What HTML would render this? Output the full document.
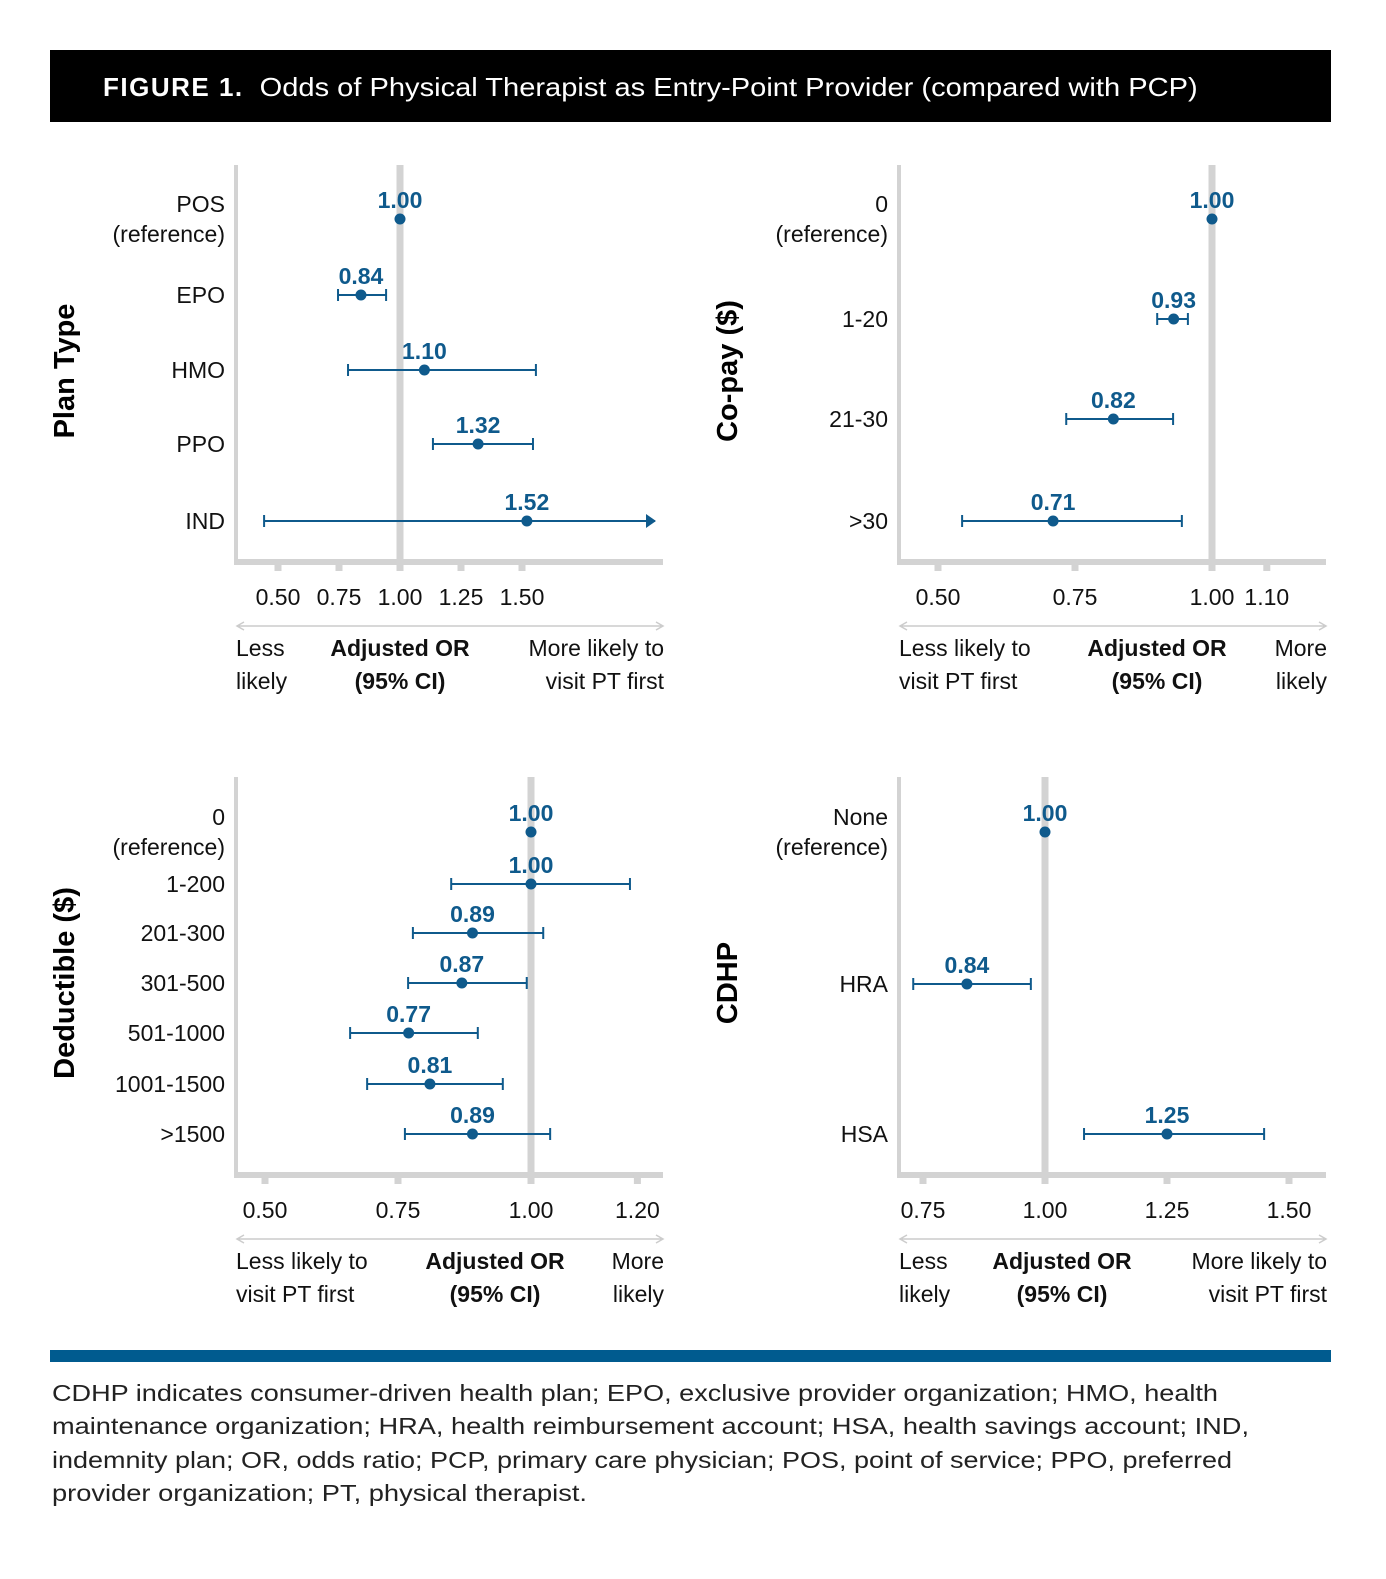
<!DOCTYPE html>
<html><head><meta charset="utf-8"><style>
body{margin:0;background:#fff;}
svg text{font-family:"Liberation Sans",sans-serif;}
</style></head><body>
<svg id="fig" width="1386" height="1574" viewBox="0 0 1386 1574" xmlns="http://www.w3.org/2000/svg">
<rect x="50" y="50" width="1281" height="72" fill="#000"/>
<text x="103" y="96" fill="#fff" font-size="26"><tspan font-weight="bold" letter-spacing="1.5">FIGURE 1.</tspan><tspan dx="16" textLength="938" lengthAdjust="spacingAndGlyphs">Odds of Physical Therapist as Entry-Point Provider (compared with PCP)</tspan></text>
<rect x="50" y="1350" width="1281" height="12" fill="#005b8f"/>
<g font-size="23" fill="#222">
<text x="52" y="1401" textLength="1166" lengthAdjust="spacingAndGlyphs">CDHP indicates consumer-driven health plan; EPO, exclusive provider organization; HMO, health</text>
<text x="52" y="1434" textLength="1197" lengthAdjust="spacingAndGlyphs">maintenance organization; HRA, health reimbursement account; HSA, health savings account; IND,</text>
<text x="52" y="1468" textLength="1180" lengthAdjust="spacingAndGlyphs">indemnity plan; OR, odds ratio; PCP, primary care physician; POS, point of service; PPO, preferred</text>
<text x="52" y="1501" textLength="535" lengthAdjust="spacingAndGlyphs">provider organization; PT, physical therapist.</text>
</g>
<g id="panels"></g>
</svg>
<script>
// Panel 1: Plan Type
const planCats = ["POS|(reference)", "EPO", "HMO", "PPO", "IND"];
const planOR = [1.00, 0.84, 1.10, 1.32, 1.52];
const planLo = [null, 0.746, 0.787, 1.135, 0.443];
const planHi = [null, 0.943, 1.557, 1.545, 2.10];
const planTicks = ["0.50", "0.75", "1.00", "1.25", "1.50"];
// Panel 2: Co-pay
const copayCats = ["0|(reference)", "1-20", "21-30", ">30"];
const copayOR = [1.00, 0.93, 0.82, 0.71];
const copayLo = [null, 0.90, 0.734, 0.544];
const copayHi = [null, 0.956, 0.929, 0.945];
const copayTicks = ["0.50", "0.75", "1.00", "1.10"];
// Panel 3: Deductible
const dedCats = ["0|(reference)", "1-200", "201-300", "301-500", "501-1000", "1001-1500", ">1500"];
const dedOR = [1.00, 1.00, 0.89, 0.87, 0.77, 0.81, 0.89];
const dedLo = [null, 0.85, 0.778, 0.769, 0.66, 0.692, 0.763];
const dedHi = [null, 1.186, 1.023, 0.992, 0.90, 0.947, 1.036];
const dedTicks = ["0.50", "0.75", "1.00", "1.20"];
// Panel 4: CDHP
const cdhpCats = ["None|(reference)", "HRA", "HSA"];
const cdhpOR = [1.00, 0.84, 1.25];
const cdhpLo = [null, 0.73, 1.08];
const cdhpHi = [null, 0.971, 1.449];
const cdhpTicks = ["0.75", "1.00", "1.25", "1.50"];

const NS = "http://www.w3.org/2000/svg";
const root = document.getElementById("panels");
function mk(tag, attrs, parent, txt) {
  const e = document.createElementNS(NS, tag);
  for (const k in attrs) e.setAttribute(k, attrs[k]);
  if (txt !== undefined) e.textContent = txt;
  parent.appendChild(e);
  return e;
}
const BLUE = "#0f5a8c", GRAY = "#d3d3d3";
function panel(o) {
  const g = mk("g", {}, root);
  
  
  const x = v => o.x1 + (v - 1) * o.ppu;
  const y = i => o.rows[i];
  const ax = mk("rect", {x: o.l - 3, y: o.top, width: 4, height: o.base - o.top, fill: GRAY}, g);
  
  
  const bl = mk("rect", {x: o.l - 3, y: o.base - 3, width: o.r - o.l + 3, height: 6, fill: GRAY}, g);
  
  
  const ref = mk("rect", {x: x(1) - 3.5, y: o.top, width: 7, height: o.base - o.top, fill: GRAY}, g);
  
  
  o.ticks.forEach(t => {
    const tx = x(parseFloat(t));
    const tk = mk("rect", {x: tx - 3.5, y: o.base, width: 7, height: 9, fill: GRAY}, g);
    
    
    const tl = mk("text", {x: tx, y: o.base + 43, "font-size": 23, "text-anchor": "middle", fill: "#111"}, g, t);
    
    
  });
  const ay = o.base + 64;
  const da = mk("path", {d: `M${o.l} ${ay}H${o.r} M${o.l+7} ${ay-4}L${o.l} ${ay}L${o.l+7} ${ay+4} M${o.r-7} ${ay-4}L${o.r} ${ay}L${o.r-7} ${ay+4}`, stroke: "#ccc", "stroke-width": 1.5, fill: "none"}, g);
  
  
  const fy1 = o.base + 94, fy2 = o.base + 127;
  const lt = mk("text", {"font-size": 23, fill: "#111"}, g);
  
  
  mk("tspan", {x: o.l - 1, y: fy1}, lt, o.leftTxt[0]);
  mk("tspan", {x: o.l - 1, y: fy2}, lt, o.leftTxt[1]);
  const rt = mk("text", {"font-size": 23, fill: "#111", "text-anchor": "end"}, g);
  
  
  mk("tspan", {x: o.r + 1, y: fy1}, rt, o.rightTxt[0]);
  mk("tspan", {x: o.r + 1, y: fy2}, rt, o.rightTxt[1]);
  const ct = mk("text", {"font-size": 23, fill: "#111", "font-weight": "bold", "text-anchor": "middle"}, g);
  
  
  mk("tspan", {x: o.mid, y: fy1}, ct, "Adjusted OR");
  mk("tspan", {x: o.mid, y: fy2}, ct, "(95% CI)");
  const yt = mk("text", {x: 0, y: 0, "font-size": 29, "font-weight": "bold", "text-anchor": "middle", fill: "#000", transform: `translate(${o.yTitleX},${o.yTitleY}) rotate(-90)`}, g, o.title);
  
  
  o.cats.forEach((c, i) => {
    const parts = c.split("|");
    const lab = mk("text", {"font-size": 23, fill: "#111", "text-anchor": "end"}, g);
    
    
    if (parts.length > 1) {
      mk("tspan", {x: o.labX, y: y(i) - 7}, lab, parts[0]);
      mk("tspan", {x: o.labX, y: y(i) + 23}, lab, parts[1]);
    } else {
      mk("tspan", {x: o.labX, y: y(i) + 8}, lab, parts[0]);
    }
    if (o.lo[i] !== null) {
      const lo = Math.max(o.lo[i], (o.l - o.x1) / o.ppu + 1);
      const hiRaw = o.hi[i];
      const maxV = (o.r - 8 - o.x1) / o.ppu + 1;
      const clipped = hiRaw > maxV;
      const hi = clipped ? maxV : hiRaw;
      const d = `M${x(lo)} ${y(i)}H${x(hi)} M${x(lo)} ${y(i)-6}V${y(i)+6}`;
      const ci = mk("path", {d: d, stroke: BLUE, "stroke-width": 2, fill: "none"}, g);
      
      
      if (clipped) {
        const ah = mk("path", {d: `M${x(hi)-9} ${y(i)-7}L${x(hi)+1} ${y(i)}L${x(hi)-9} ${y(i)+7}Z`, fill: BLUE}, g);
        
        
      } else {
        const cap = mk("path", {d: `M${x(hi)} ${y(i)-6}V${y(i)+6}`, stroke: BLUE, "stroke-width": 2}, g);
        
        
      }
    }
    const pt = mk("circle", {cx: x(o.or[i]), cy: y(i), r: 5.5, fill: BLUE}, g);
    
    
    const vl = mk("text", {x: x(o.or[i]), y: y(i) - 11, "font-size": 23, "font-weight": "bold", fill: BLUE, "text-anchor": "middle"}, g, o.or[i].toFixed(2));
    
    
  });
}
panel({name: "plan-type-panel", title: "Plan Type", cats: planCats, or: planOR, lo: planLo, hi: planHi, ticks: planTicks,
  x1: 400, ppu: 244, l: 237, r: 663, top: 165, base: 562, rows: [219, 295, 370, 444, 521], labX: 225,
  yTitleX: 74, yTitleY: 371, leftTxt: ["Less", "likely"], rightTxt: ["More likely to", "visit PT first"], mid: 400});
panel({name: "copay-panel", title: "Co-pay ($)", cats: copayCats, or: copayOR, lo: copayLo, hi: copayHi, ticks: copayTicks,
  x1: 1212, ppu: 548, l: 900, r: 1326, top: 165, base: 562, rows: [219, 319, 419, 521], labX: 888,
  yTitleX: 737, yTitleY: 371, leftTxt: ["Less likely to", "visit PT first"], rightTxt: ["More", "likely"], mid: 1157});
panel({name: "deductible-panel", title: "Deductible ($)", cats: dedCats, or: dedOR, lo: dedLo, hi: dedHi, ticks: dedTicks,
  x1: 531, ppu: 532, l: 237, r: 663, top: 777, base: 1175, rows: [832, 884, 933, 983, 1033, 1084, 1134], labX: 225,
  yTitleX: 74, yTitleY: 983, leftTxt: ["Less likely to", "visit PT first"], rightTxt: ["More", "likely"], mid: 495});
panel({name: "cdhp-panel", title: "CDHP", cats: cdhpCats, or: cdhpOR, lo: cdhpLo, hi: cdhpHi, ticks: cdhpTicks,
  x1: 1045, ppu: 488, l: 900, r: 1326, top: 777, base: 1175, rows: [832, 984, 1134], labX: 888,
  yTitleX: 737, yTitleY: 983, leftTxt: ["Less", "likely"], rightTxt: ["More likely to", "visit PT first"], mid: 1062});
</script>
</body></html>
